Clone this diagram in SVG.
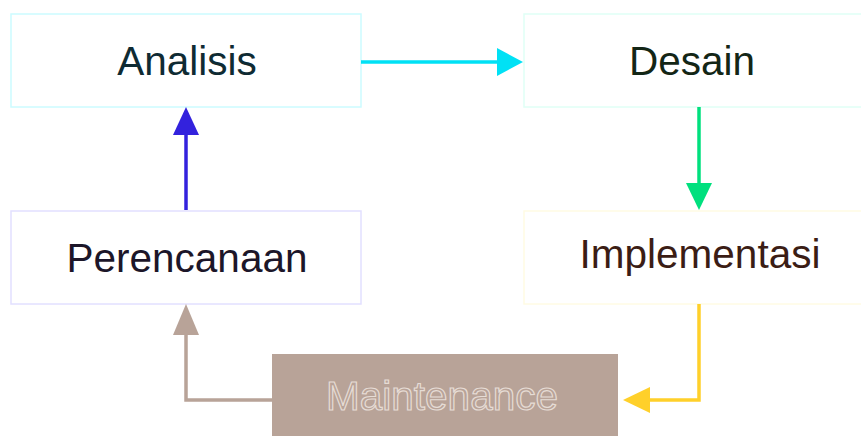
<svg xmlns="http://www.w3.org/2000/svg" width="861" height="436" viewBox="0 0 861 436">
<style>
.box{fill:#ffffff;stroke-width:1.5}
.lbl{font-family:"Liberation Sans",Arial,sans-serif;font-size:40.5px;text-anchor:middle}
.edge{fill:none;stroke-width:3.5}
</style>
<rect width="861" height="436" fill="#ffffff"/>
<g id="analisis">
<rect class="box" x="11" y="14" width="350" height="93" stroke="#ccfbff"/>
<text class="lbl" x="187" y="75" fill="#0f2b33">Analisis</text>
</g>
<g id="desain">
<rect class="box" x="524" y="14" width="345" height="93" stroke="#e0fff6"/>
<text class="lbl" x="692" y="75" fill="#132616">Desain</text>
</g>
<g id="perencanaan">
<rect class="box" x="11" y="211" width="350" height="93" stroke="#e2e0ff"/>
<text class="lbl" x="187" y="272" fill="#1c1629">Perencanaan</text>
</g>
<g id="implementasi">
<rect class="box" x="524" y="211" width="345" height="93" stroke="#fffbe4"/>
<text class="lbl" x="700" y="268" fill="#3b1d15">Implementasi</text>
</g>
<g id="maintenance">
<rect x="272" y="354" width="346" height="90" fill="#b8a398"/>
<text class="lbl" x="442" y="410" fill="#b8a398" stroke="#e6dcd5" stroke-width="1.2">Maintenance</text>
</g>
<g id="connectors">
<path class="edge" stroke="#00e1f5" d="M361 62 H500"/>
<polygon fill="#00e1f5" points="497,48 523,62 497,76"/>
<path class="edge" stroke="#00e07e" d="M699 107 V186"/>
<polygon fill="#00e07e" points="686,183 699,210 712,183"/>
<path class="edge" stroke="#ffd02a" d="M699 304 V400 H648"/>
<polygon fill="#ffd02a" points="650,387 623,400 650,413"/>
<path class="edge" stroke="#b8a398" d="M272 400 H186 V332"/>
<polygon fill="#b8a398" points="173,335 186,304 199,335"/>
<path class="edge" stroke="#3322dd" d="M186 210 V132"/>
<polygon fill="#3322dd" points="173,135 186,107 199,135"/>
</g>
</svg>
